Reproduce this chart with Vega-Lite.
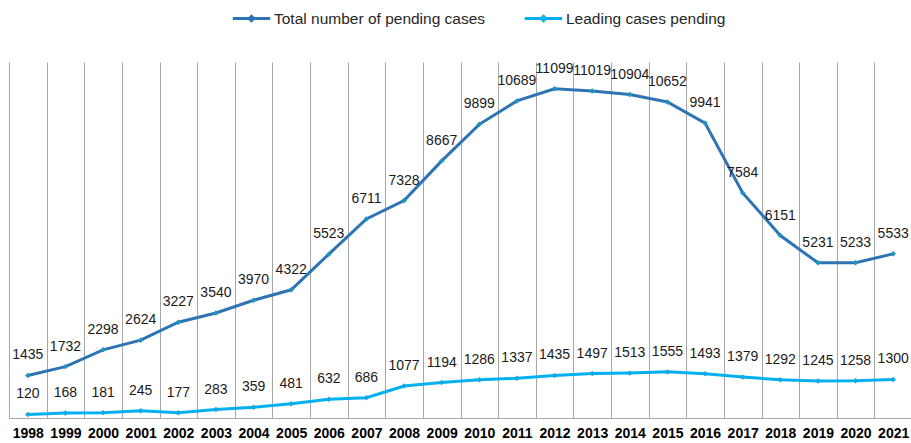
{
  "$schema": "https://vega.github.io/schema/vega-lite/v6.json",
  "autosize": "none",
  "width": 903,
  "height": 356,
  "padding": {"left": 9, "top": 62, "right": 0, "bottom": 25},
  "background": "white",
  "config": {"view": {"stroke": null}, "font": "Liberation Sans"},
  "data": {"values": [
    {"year": "1998", "series": "Total number of pending cases", "value": 1435},
    {"year": "1999", "series": "Total number of pending cases", "value": 1732},
    {"year": "2000", "series": "Total number of pending cases", "value": 2298},
    {"year": "2001", "series": "Total number of pending cases", "value": 2624},
    {"year": "2002", "series": "Total number of pending cases", "value": 3227},
    {"year": "2003", "series": "Total number of pending cases", "value": 3540},
    {"year": "2004", "series": "Total number of pending cases", "value": 3970},
    {"year": "2005", "series": "Total number of pending cases", "value": 4322},
    {"year": "2006", "series": "Total number of pending cases", "value": 5523},
    {"year": "2007", "series": "Total number of pending cases", "value": 6711},
    {"year": "2008", "series": "Total number of pending cases", "value": 7328},
    {"year": "2009", "series": "Total number of pending cases", "value": 8667},
    {"year": "2010", "series": "Total number of pending cases", "value": 9899},
    {"year": "2011", "series": "Total number of pending cases", "value": 10689},
    {"year": "2012", "series": "Total number of pending cases", "value": 11099},
    {"year": "2013", "series": "Total number of pending cases", "value": 11019},
    {"year": "2014", "series": "Total number of pending cases", "value": 10904},
    {"year": "2015", "series": "Total number of pending cases", "value": 10652},
    {"year": "2016", "series": "Total number of pending cases", "value": 9941},
    {"year": "2017", "series": "Total number of pending cases", "value": 7584},
    {"year": "2018", "series": "Total number of pending cases", "value": 6151},
    {"year": "2019", "series": "Total number of pending cases", "value": 5231},
    {"year": "2020", "series": "Total number of pending cases", "value": 5233},
    {"year": "2021", "series": "Total number of pending cases", "value": 5533},
    {"year": "1998", "series": "Leading cases pending", "value": 120},
    {"year": "1999", "series": "Leading cases pending", "value": 168},
    {"year": "2000", "series": "Leading cases pending", "value": 181},
    {"year": "2001", "series": "Leading cases pending", "value": 245},
    {"year": "2002", "series": "Leading cases pending", "value": 177},
    {"year": "2003", "series": "Leading cases pending", "value": 283},
    {"year": "2004", "series": "Leading cases pending", "value": 359},
    {"year": "2005", "series": "Leading cases pending", "value": 481},
    {"year": "2006", "series": "Leading cases pending", "value": 632},
    {"year": "2007", "series": "Leading cases pending", "value": 686},
    {"year": "2008", "series": "Leading cases pending", "value": 1077},
    {"year": "2009", "series": "Leading cases pending", "value": 1194},
    {"year": "2010", "series": "Leading cases pending", "value": 1286},
    {"year": "2011", "series": "Leading cases pending", "value": 1337},
    {"year": "2012", "series": "Leading cases pending", "value": 1435},
    {"year": "2013", "series": "Leading cases pending", "value": 1497},
    {"year": "2014", "series": "Leading cases pending", "value": 1513},
    {"year": "2015", "series": "Leading cases pending", "value": 1555},
    {"year": "2016", "series": "Leading cases pending", "value": 1493},
    {"year": "2017", "series": "Leading cases pending", "value": 1379},
    {"year": "2018", "series": "Leading cases pending", "value": 1292},
    {"year": "2019", "series": "Leading cases pending", "value": 1245},
    {"year": "2020", "series": "Leading cases pending", "value": 1258},
    {"year": "2021", "series": "Leading cases pending", "value": 1300}
  ]},
  "encoding": {
    "x": {
      "field": "year", "type": "ordinal",
      "scale": {"paddingInner": 0, "paddingOuter": 0},
      "axis": {
        "title": null, "labelAngle": 0, "tickBand": "extent", "grid": true,
        "gridColor": "#a6a6a6", "gridWidth": 1, "ticks": false,
        "domainColor": "#a6a6a6", "labelFontSize": 14, "labelFontWeight": "bold",
        "labelColor": "#000000", "labelPadding": 8, "labelFont": "Liberation Sans"
      }
    },
    "y": {
      "field": "value", "type": "quantitative",
      "scale": {"domain": [0, 12000], "nice": false},
      "axis": null
    }
  },
  "layer": [
    {
      "mark": {"type": "line", "strokeWidth": 3},
      "encoding": {
        "color": {
          "field": "series", "type": "nominal",
          "scale": {"domain": ["Total number of pending cases", "Leading cases pending"], "range": ["#2e74b5", "#00b0f0"]},
          "legend": {
            "title": null, "orient": "none", "direction": "horizontal",
            "legendX": 222, "legendY": -64,
            "symbolType": "M-1,0L1,0M0,-0.12L0.12,0L0,0.12L-0.12,0Z",
            "symbolSize": 1400, "symbolStrokeWidth": 3,
            "labelFontSize": 15.5, "labelColor": "#262626", "labelFont": "Liberation Sans",
            "labelLimit": 0,
            "columnPadding": 32, "symbolOffset": 0, "labelOffset": 2
          }
        }
      }
    },
    {
      "mark": {"type": "point", "shape": "diamond", "filled": true, "size": 30, "opacity": 1},
      "encoding": {
        "fill": {
          "field": "series", "type": "nominal",
          "scale": {"domain": ["Total number of pending cases", "Leading cases pending"], "range": ["#1d95bd", "#14a8e0"]},
          "legend": null
        }
      }
    },
    {
      "mark": {"type": "text", "dy": -20, "fontSize": 14, "color": "#1a1a1a", "font": "Liberation Sans"},
      "encoding": {"text": {"field": "value", "type": "quantitative", "format": "d"}}
    }
  ]
}
